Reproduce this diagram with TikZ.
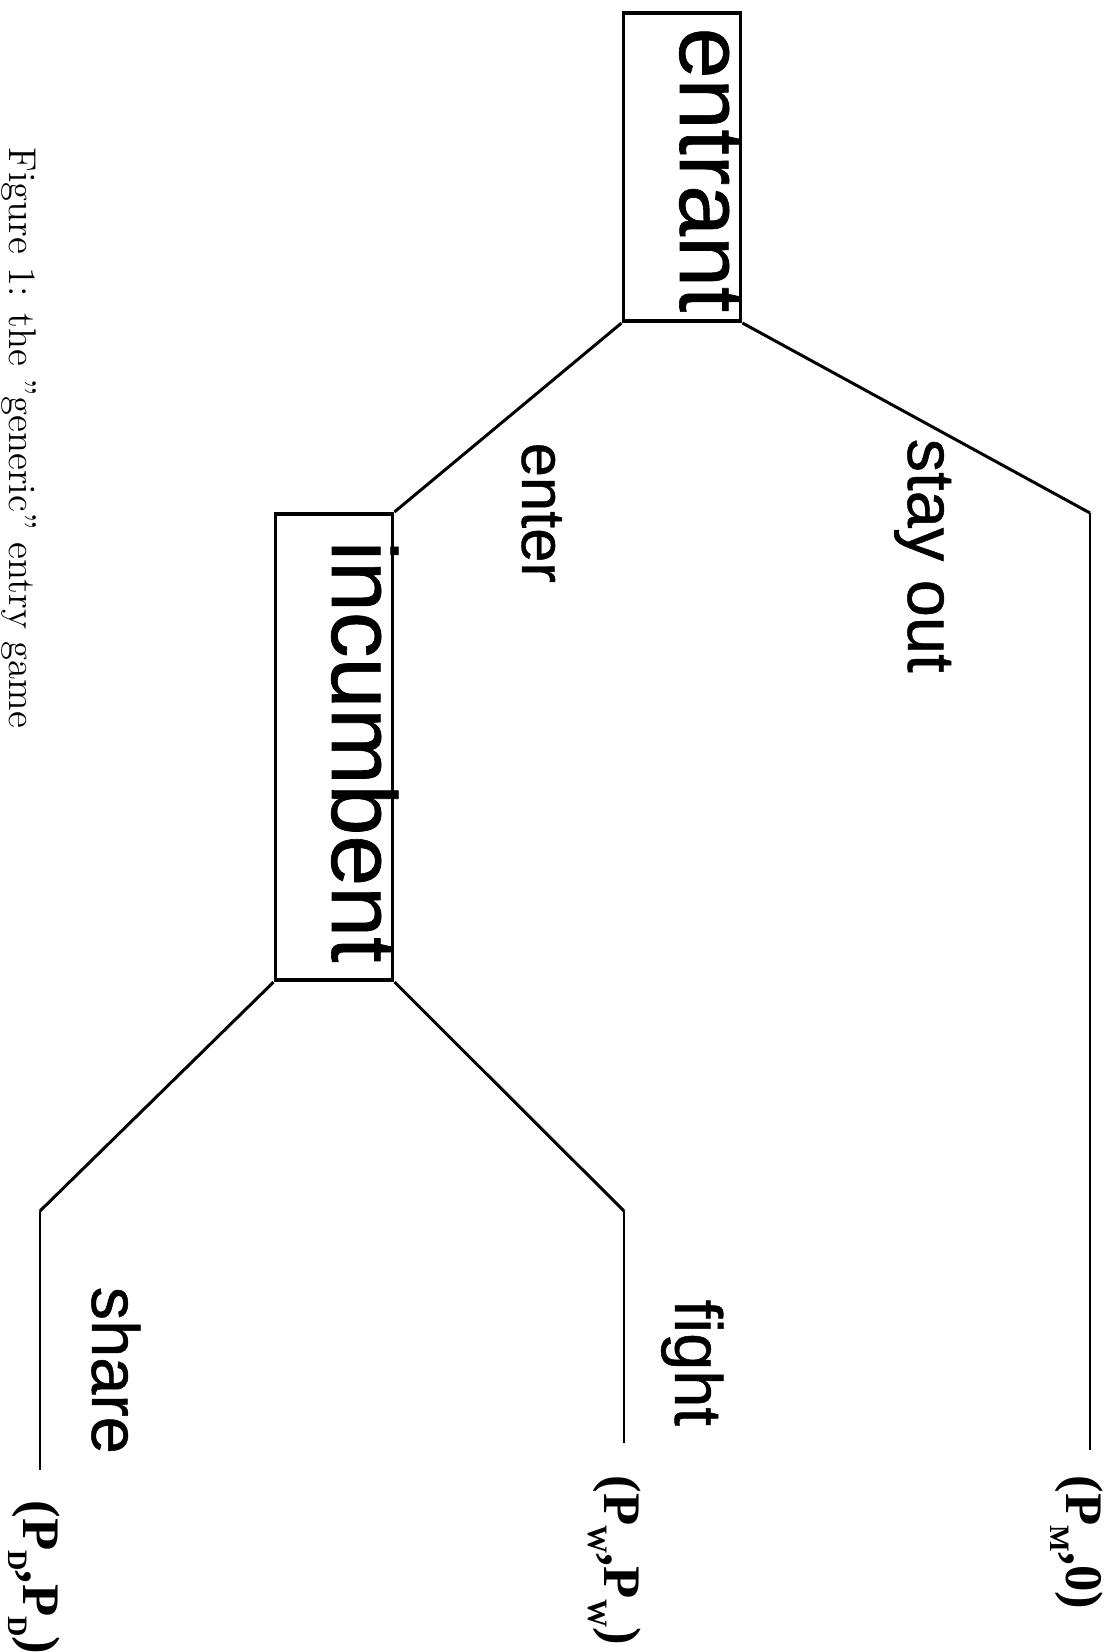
\documentclass[tikz,border=0pt]{standalone}
\usepackage{fontspec}
\newfontfamily\labelfont[FakeBold=0.7]{Liberation Sans}
\newfontfamily\payfont{Liberation Serif}
\newcommand{\psub}[1]{\raisebox{-4.5pt}{\fontsize{8}{8}\selectfont #1}}

\begin{document}
\begin{tikzpicture}[x=0.01cm, y=-0.01cm,
        player/.style={draw, line width=1.1pt, inner sep=0pt, minimum width=1.17cm},
        playertxt/.style={rotate=-90, anchor=base west, inner sep=0pt, font=\labelfont\fontsize{26}{30}\selectfont},
        movetxt/.style={rotate=-90, anchor=base west, inner sep=0pt, font=\labelfont\fontsize{19}{22}\selectfont},
        payoff/.style={rotate=-90, anchor=base west, inner sep=0pt, font=\payfont\bfseries\fontsize{15}{17}\selectfont},
        branch/.style={line width=0.85pt},
        stem/.style={line width=0.6pt}
    ]
        \useasboundingbox (0,0) rectangle (1111,1652);
        % decision nodes
        \node[player, minimum height=3.08cm] (entrant) at (682,167) {};
        \node[player, minimum height=4.66cm] (incumbent) at (334,747) {};
        \node[playertxt] (entrantTxt) at (680,27) {entrant};
        \node[playertxt] (incumbentTxt) at (332,540) {incumbent};
        % leaves
        \coordinate (stayout) at (1090,513);
        \coordinate (fight) at (624,1211);
        \coordinate (share) at (40,1211);
        \coordinate (stayoutEnd) at (1090,1450);
        \coordinate (fightEnd) at (624,1443);
        \coordinate (shareEnd) at (40,1470);
        % branches
        \draw[branch] (entrant.south east) -- (stayout);
        \draw[branch] (entrant.south west) -- (incumbent.north east);
        \draw[branch] (incumbent.south east) -- (fight);
        \draw[branch] (incumbent.south west) -- (share);
        \draw[stem] (stayout) -- (stayoutEnd);
        \draw[stem] (fight) -- (fightEnd);
        \draw[stem] (share) -- (shareEnd);
        % move labels
        \node[movetxt] (stayoutTxt) at (908,438) {stay out};
        \node[movetxt, font=\labelfont\fontsize{17.5}{20}\selectfont] (enterTxt) at (522,442) {enter};
        \node[movetxt] (fightTxt) at (675,1299) {fight};
        \node[movetxt] (shareTxt) at (92,1286) {share};
        % payoffs
        \node[payoff] (payM) at (1066,1475) {(P\psub{M},0)};
        \node[payoff] (payW) at (604,1475) {(P\psub{W},P\psub{W})};
        \node[payoff] (payD) at (24,1500) {(P\psub{D},P\psub{D})};
        % caption
        \node[rotate=-90, anchor=base west, inner sep=0pt, font=\fontsize{11}{13}\selectfont] (caption) at (9,147) {Figure 1: the ”generic” entry game};
    \end{tikzpicture}
\end{document}
